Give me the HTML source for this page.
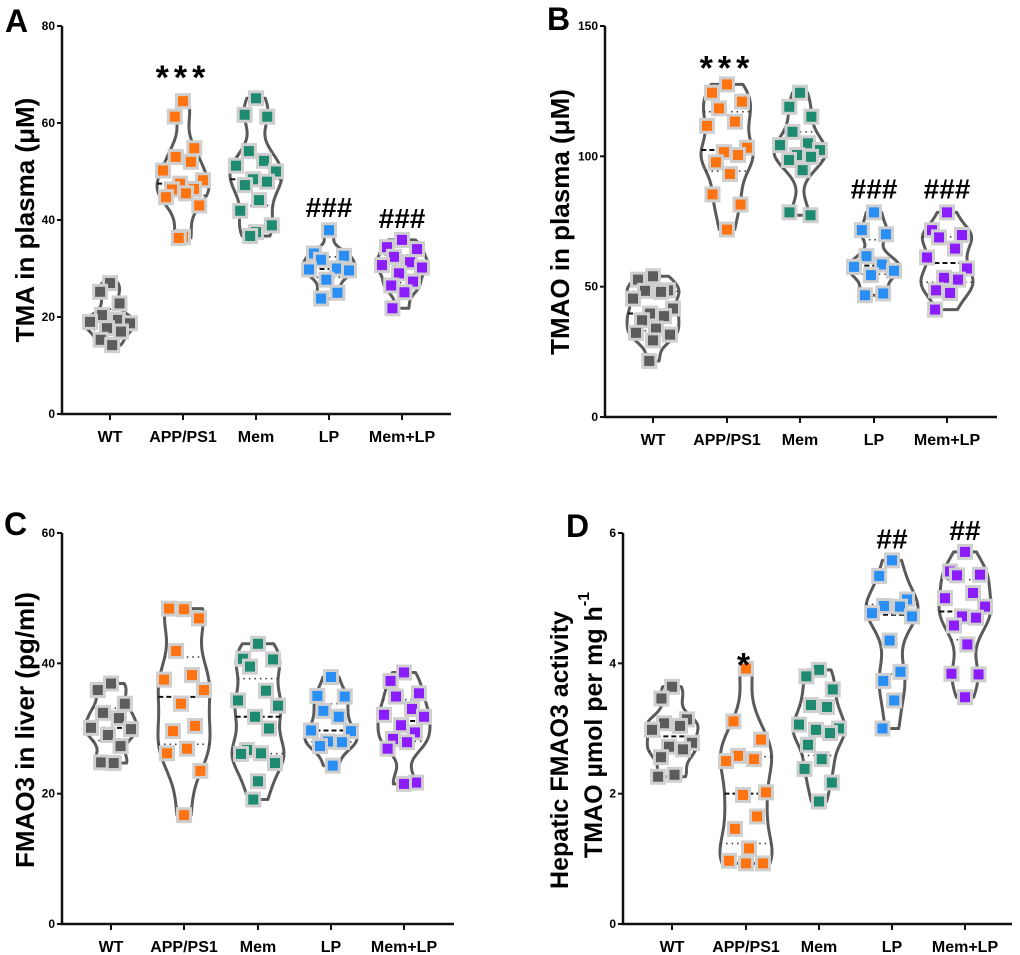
<!DOCTYPE html>
<html><head><meta charset="utf-8"><style>
html,body{margin:0;padding:0;background:#fff;}
svg{display:block;font-family:"Liberation Sans",Arial,sans-serif;}
</style></head><body>
<svg id="fig" width="1020" height="955" viewBox="0 0 1020 955"></svg>
<script>
// ---- data ----
const categories = ["WT","APP/PS1","Mem","LP","Mem+LP"];
const colors = ["#5c5c5c","#ff7410","#1e8a6f","#2a8ff4","#8b1dfd"];
const tmaWT = [27,25.2,22.8,20.4,19.4,19,18.7,17.7,17,15.3,14.2];
const tmaAPP = [64.5,61.3,54.8,53,52,50.2,48.2,47.5,46.4,46.3,45.5,44.7,43,36.5,36.3];
const tmaMem = [65.1,61.7,61.3,54.2,52.2,51.2,50,48.4,47.9,47.2,44.1,41.9,38.9,37.5,36.7];
const tmaLP = [37.9,33.1,32.6,31.8,30,29.8,29.6,27.7,25,23.8];
const tmaMemLP = [35.9,34.4,34,32.4,31.3,30.7,30.2,29,27.3,26.5,25.1,21.8];
const tmaoWT = [54,52.7,48.6,48.4,48,45.4,41.6,39.7,38.7,37.1,33.9,32.3,31.6,29.4,21.5];
const tmaoAPP = [127.6,124.4,121,118.4,113.3,111.7,103.3,101.6,100.5,97.7,93.2,85.4,81.5,71.9];
const tmaoMem = [124.4,119,115.2,109.4,105,104.3,102.4,100.5,99.8,98.6,94.7,78.5,77.4];
const tmaoLP = [78.5,71.7,70.1,61.7,58.5,57.6,56.1,54.4,47.4,46.7];
const tmaoMemLP = [78.5,71.7,69.8,68.9,64.6,61.2,57,53.4,52.7,48.6,47.6,41.2];
const fmoWT = [36.9,35.9,33.8,32.4,31.6,30.1,29.9,29,27.3,24.8,24.7];
const fmoAPP = [48.3,48.4,46.9,41.9,38.2,37.5,35.9,33.8,30.4,29.6,26.9,26.2,23.5,16.7];
const fmoMem = [43,40.7,40.6,39.5,35.8,34.3,33.5,31.8,30,26.7,26.2,26.1,24.7,21.9,19.1];
const fmoLP = [37.9,35,34.9,32.7,31.8,29.7,29.6,28,27.9,27.3,24.3];
const fmoMemLP = [38.6,37.3,35.4,34.9,33,32.1,31.8,30.5,29.4,28.4,27.9,26.9,21.7,21.5];
const actWT = [3.64,3.46,3.14,3.08,3.04,2.98,2.78,2.72,2.68,2.56,2.29,2.26];
const actAPP = [3.92,3.11,2.83,2.58,2.53,2.5,2.02,1.98,1.65,1.46,1.16,0.97,0.93,0.93];
const actMem = [3.9,3.8,3.6,3.36,3.33,3.06,3.0,2.98,2.93,2.75,2.53,2.38,2.17,1.88];
const actLP = [5.58,5.34,4.98,4.88,4.87,4.77,4.72,4.35,3.87,3.73,3.43,3.0];
const actMemLP = [5.71,5.41,5.36,5.35,5.08,5.0,4.87,4.72,4.7,4.58,4.29,3.84,3.83,3.48];
const ticksA = [0,20,40,60,80], ticksB = [0,50,100,150], ticksC = [0,20,40,60], ticksD = [0,2,4,6];
const marksA = ["","***","","###","###"], marksB = ["","***","","###","###"];
const marksC = ["","","","",""], marksD = ["","*","","##","##"];

const NS = "http://www.w3.org/2000/svg";
const svg = document.getElementById("fig");
function mk(tag, attrs, parent, text){
  const e = document.createElementNS(NS, tag);
  for (const k in attrs) e.setAttribute(k, attrs[k]);
  if (text !== undefined) e.textContent = text;
  (parent||svg).appendChild(e); return e;
}
const jit = [0,-15,15,-8,8,-20,20,-3,11,-11,3,-17,17,0,-7,7];
function quant(s,q){const p=(s.length-1)*q,i=Math.floor(p);return s[i]+(s[Math.min(i+1,s.length-1)]-s[i])*(p-i);}

function panel(p){
  const g = mk("g",{},svg);
  
  
  const ymax = p.ticks[p.ticks.length-1];
  const Y = v => p.y0 - (v/ymax)*(p.y0-p.yTop);
  const ax = mk("path",{d:`M${p.ax} ${p.yTop} V${p.y0} H${p.axEnd}`,stroke:"#111","stroke-width":2.5,fill:"none"},g);
   
  p.ticks.forEach(t=>{
    mk("line",{x1:p.ax-5,x2:p.ax,y1:Y(t),y2:Y(t),stroke:"#111","stroke-width":2},g);
    const tl = mk("text",{x:p.ax-7,y:Y(t)+4,"text-anchor":"end","font-size":12,"font-weight":"bold"},g,String(t));
     
  });
  p.titles.forEach(tt=>{
    const t = mk("text",{x:tt[0],y:tt[1],"text-anchor":"middle","dominant-baseline":"central","font-size":tt[3]||26,"font-weight":"bold",transform:`rotate(-90 ${tt[0]} ${tt[1]})`},g);
    t.innerHTML = tt[2];
     
  });
  const L = mk("text",{x:p.letter[0],y:p.letter[1],"font-size":32,"font-weight":"bold"},g,p.letter[2]);
   
  p.series.forEach((vals,ci)=>{
    const cx = p.cx[ci];
    mk("line",{x1:cx,x2:cx,y1:p.y0,y2:p.y0+6,stroke:"#111","stroke-width":2},g);
    const cl = mk("text",{x:cx,y:p.y0+28,"text-anchor":"middle","font-size":16,"font-weight":"bold"},g,categories[ci]);
     
    const s = vals.slice().sort((a,b)=>a-b);
    const mn=s[0], mx=s[s.length-1], h=(mx-mn)*0.11+1e-6;
    const dens = v => s.reduce((a,x)=>a+Math.exp(-0.5*((v-x)/h)**2),0);
    const N=40, pts=[]; let dmax=0;
    for(let i=0;i<=N;i++){const v=mn+(mx-mn)*i/N,d=dens(v);pts.push([v,d]);if(d>dmax)dmax=d;}
    const W=26;
    let d="M"+pts.map(q=>`${cx+q[1]/dmax*W} ${Y(q[0])}`).join(" L");
    d+=" L"+pts.slice().reverse().map(q=>`${cx-q[1]/dmax*W} ${Y(q[0])}`).join(" L")+" Z";
    const vio = mk("path",{d,fill:"none",stroke:"#5a5a5a","stroke-width":3,"stroke-linejoin":"round"},g);
    
    
    const med=quant(s,0.5), q1=quant(s,0.25), q3=quant(s,0.75);
    const hw = v=>dens(v)/dmax*W;
    mk("line",{x1:cx-hw(med),x2:cx+hw(med),y1:Y(med),y2:Y(med),stroke:"#111","stroke-width":2,"stroke-dasharray":"5 3"},g);
    [q1,q3].forEach(q=>mk("line",{x1:cx-hw(q),x2:cx+hw(q),y1:Y(q),y2:Y(q),stroke:"#333","stroke-width":1.5,"stroke-dasharray":"1.5 4"},g));
    vals.forEach((v,i)=>{
      const off = jit[i%jit.length]*Math.min(1,hw(v)/W+0.3);
      const r = mk("rect",{x:cx+off-6.5,y:Y(v)-6.5,width:13,height:13,fill:colors[ci],stroke:"#cfcfcf","stroke-width":3},g);
      
      
    });
    if(p.marks[ci]){
      const star = p.marks[ci].includes("*");
      const m = mk("text",{x:cx,y:Y(mx)-p.markGap[ci],"text-anchor":"middle","font-size":star?34:28,"font-weight":"bold","letter-spacing":star?5:0},g,p.marks[ci]);
       
    }
  });
}
panel({name:"panel-a-tma",ax:62,axEnd:451,y0:414,yTop:26,ticks:ticksA,cx:[110,183,256,329,402],series:[tmaWT,tmaAPP,tmaMem,tmaLP,tmaMemLP],marks:marksA,markGap:[0,12,0,13,12],
  titles:[[25,220,"TMA in plasma (μM)"]],letter:[5,32,"A"]});
panel({name:"panel-b-tmao",ax:605,axEnd:997,y0:417,yTop:26,ticks:ticksB,cx:[653,727,800,874,947],series:[tmaoWT,tmaoAPP,tmaoMem,tmaoLP,tmaoMemLP],marks:marksB,markGap:[0,5,0,14,14],
  titles:[[560,222,"TMAO in plasma (μM)"]],letter:[547,30,"B"]});
panel({name:"panel-c-fmao3",ax:62,axEnd:454,y0:924,yTop:533,ticks:ticksC,cx:[111,184,258,331,404],series:[fmoWT,fmoAPP,fmoMem,fmoLP,fmoMemLP],marks:marksC,markGap:[0,0,0,0,0],
  titles:[[25,730,"FMAO3 in liver (pg/ml)"]],letter:[4,535,"C"]});
panel({name:"panel-d-activity",ax:623,axEnd:1012,y0:924,yTop:533,ticks:ticksD,cx:[672,746,819,892,965],series:[actWT,actAPP,actMem,actLP,actMemLP],marks:marksD,markGap:[0,-8,0,12,12],
  titles:[[560,750,"Hepatic FMAO3 activity",25],[594,725,"TMAO µmol per mg h<tspan dy='-10' font-size='16'>-1</tspan>",25]],letter:[566,537,"D"]});
</script>
</body></html>
